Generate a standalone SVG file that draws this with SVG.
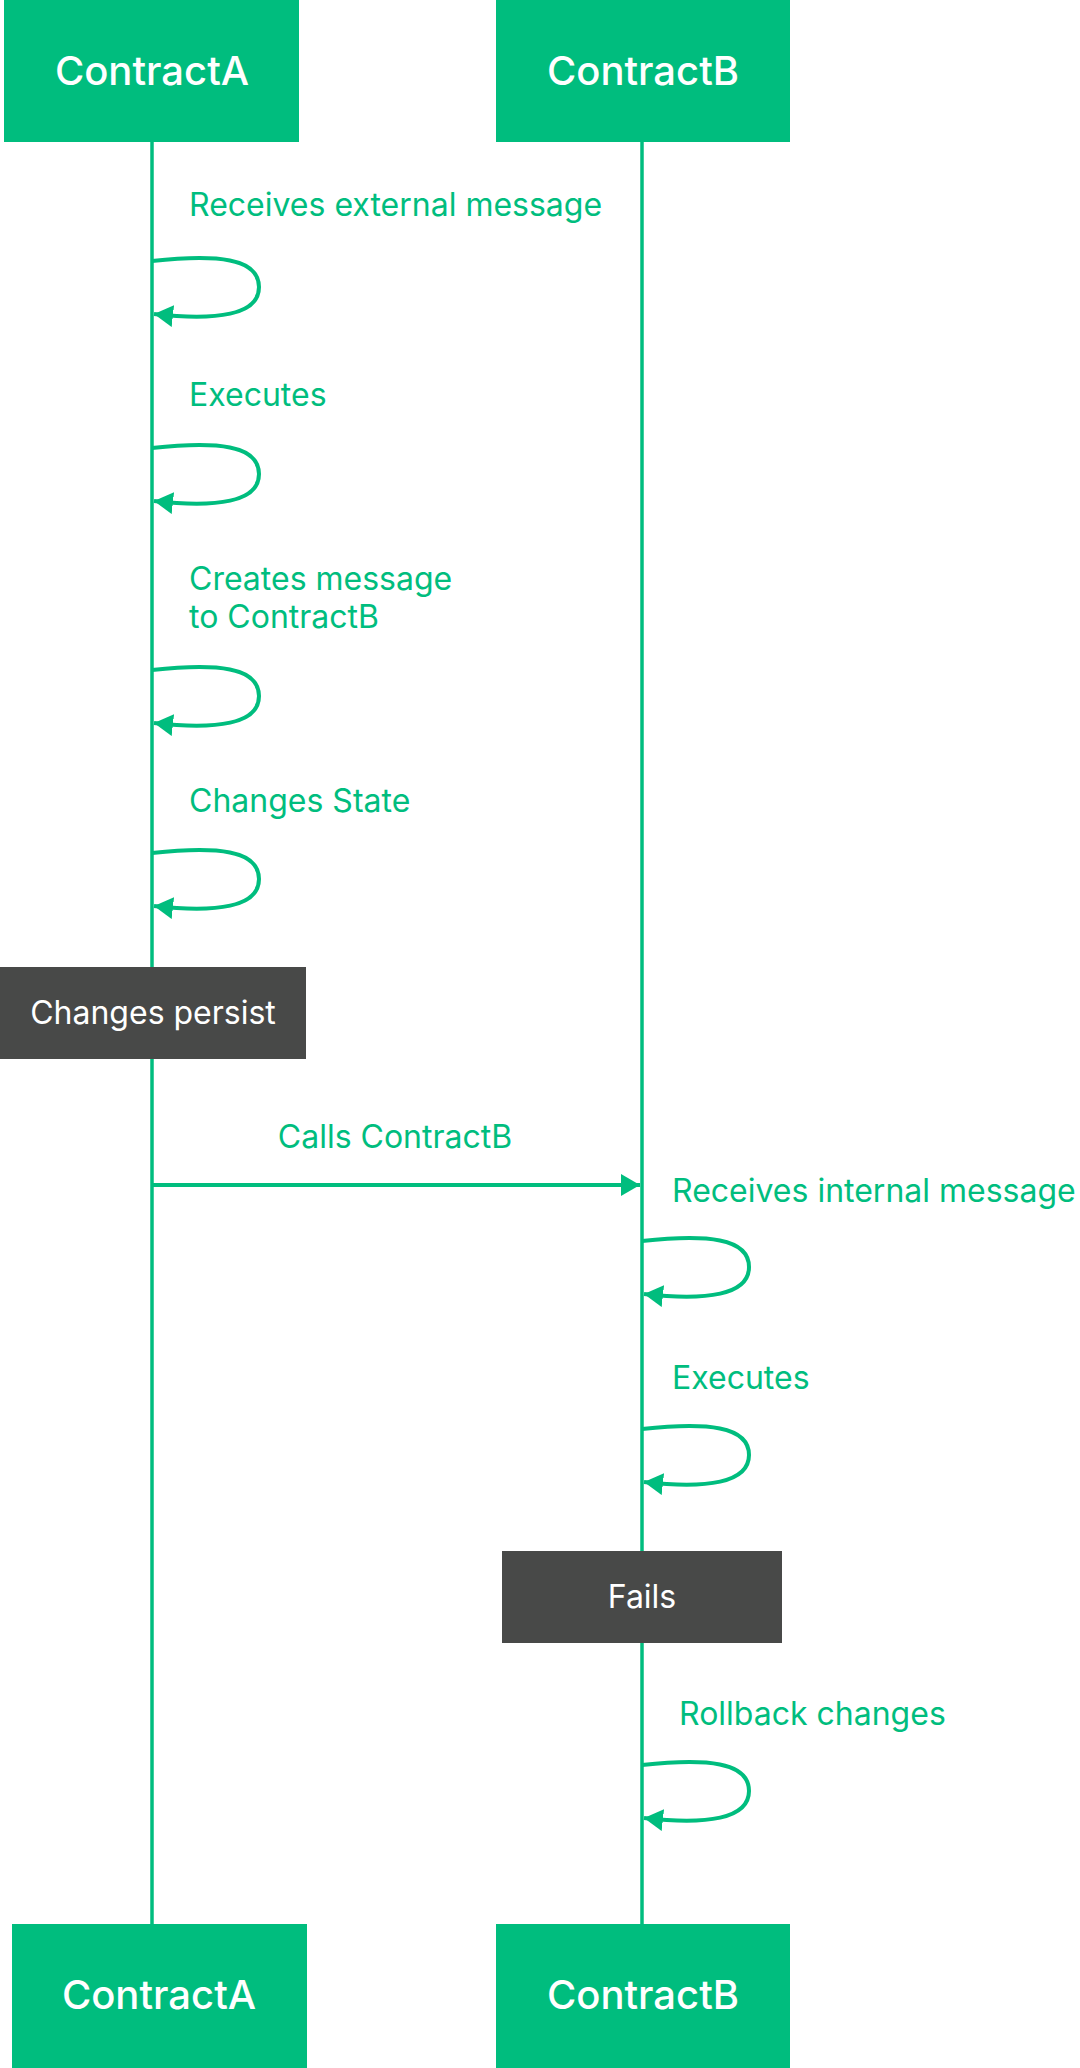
<svg xmlns="http://www.w3.org/2000/svg" width="1080" height="2068" viewBox="0 0 1080 2068">
<style>
.head{fill:#00BD7E}
.headt{fill:#fff;font-family:Inter,"Noto Sans",sans-serif;font-size:40px;font-weight:500;text-anchor:middle}
.note{fill:#484948}
.notet{fill:#fff;font-family:Inter,"Noto Sans",sans-serif;font-size:32px;text-anchor:middle}
.lbl{fill:#00BD7E;font-family:Inter,"Noto Sans",sans-serif;font-size:32px;font-weight:400}
.life{stroke:#00BD7E;stroke-width:3.5;fill:none}
.loop{stroke:#00BD7E;stroke-width:4;fill:none;marker-end:url(#ah)}
</style>
<defs>
<marker id="ah" markerWidth="22" markerHeight="24" refX="19" refY="11" orient="auto" markerUnits="userSpaceOnUse">
<path d="M0,0 L19,11 L0,22 Z" fill="#00BD7E"/>
</marker>
<path id="lp" d="M0 1 C 65 -6, 107 -2, 107 27 C 107 55, 65 61, 2 54"/>
</defs>
<rect width="1080" height="2068" fill="#fff"/>
<g id="connectors">
<line class="life" x1="152" y1="142" x2="152" y2="1924"/>
<line class="life" x1="642" y1="142" x2="642" y2="1924"/>
<use href="#lp" class="loop" x="152" y="260"/>
<use href="#lp" class="loop" x="152" y="447"/>
<use href="#lp" class="loop" x="152" y="669"/>
<use href="#lp" class="loop" x="152" y="852"/>
<line class="loop" x1="152" y1="1185" x2="640" y2="1185"/>
<use href="#lp" class="loop" x="642" y="1240"/>
<use href="#lp" class="loop" x="642" y="1428"/>
<use href="#lp" class="loop" x="642" y="1764"/>
<text class="lbl" x="189" y="216">Receives external message</text>
<text class="lbl" x="189" y="406">Executes</text>
<text class="lbl" x="189" y="590">Creates message</text>
<text class="lbl" x="189" y="628">to ContractB</text>
<text class="lbl" x="189" y="812">Changes State</text>
<text class="lbl" x="395" y="1148" text-anchor="middle">Calls ContractB</text>
<text class="lbl" x="672" y="1202">Receives internal message</text>
<text class="lbl" x="672" y="1389">Executes</text>
<text class="lbl" x="679" y="1725">Rollback changes</text>
</g>
<g id="contractA-top"><rect class="head" x="4" y="0" width="295" height="142"/><text class="headt" x="152" y="85">ContractA</text></g>
<g id="contractB-top"><rect class="head" x="496" y="0" width="294" height="142"/><text class="headt" x="643" y="85">ContractB</text></g>
<g id="changes-persist"><rect class="note" x="0" y="967" width="306" height="92"/><text class="notet" x="153" y="1024">Changes persist</text></g>
<g id="fails"><rect class="note" x="502" y="1551" width="280" height="92"/><text class="notet" x="642" y="1608">Fails</text></g>
<g id="contractA-bottom"><rect class="head" x="12" y="1924" width="295" height="144"/><text class="headt" x="159" y="2009">ContractA</text></g>
<g id="contractB-bottom"><rect class="head" x="496" y="1924" width="294" height="144"/><text class="headt" x="643" y="2009">ContractB</text></g>
</svg>
